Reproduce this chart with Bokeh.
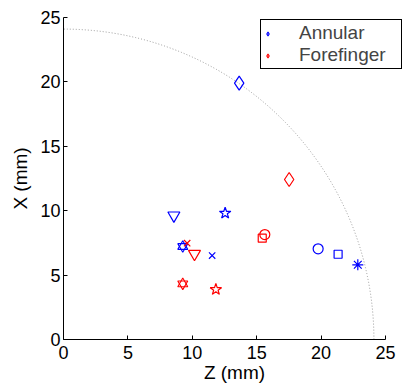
import math
from bokeh.plotting import figure
from bokeh.models import Range1d, Legend, LegendItem
from bokeh.embed import file_html
from bokeh.resources import INLINE

# Data (Z, X in mm)
annular_z = [13.64, 8.57, 12.55, 9.26, 11.54, 19.77, 21.32, 22.85]
annular_x = [19.90, 9.63, 9.81, 7.22, 6.52, 7.04, 6.62, 5.80]
annular_markers = ["diamond", "inverted_triangle", "star", "hexagram", "x", "circle", "square", "asterisk"]

fore_z = [17.52, 15.63, 15.43, 9.60, 10.17, 9.26, 11.83]
fore_x = [12.42, 8.15, 7.87, 7.48, 6.65, 4.32, 3.88]
fore_markers = ["diamond", "circle", "square", "x", "inverted_triangle", "hexagram", "star"]

arc_radius = 24.1
x_ticks = [0, 5, 10, 15, 20, 25]
y_ticks = [0, 5, 10, 15, 20, 25]

FONT = "Liberation Sans"
BLUE = "#0000ff"
RED = "#ff0000"

sizes = {"diamond": 14, "inverted_triangle": 12, "star": 12, "x": 9,
         "circle": 10, "square": 8, "asterisk": 11, "hexagram": 10}

p = figure(width=405, height=385, output_backend="svg", toolbar_location=None,
           x_range=Range1d(0, 342 / 12.88), y_range=Range1d(0, 25),
           min_border_left=63, min_border_right=0, min_border_top=17,
           min_border_bottom=46)
p.outline_line_color = None
p.xgrid.visible = False
p.ygrid.visible = False
p.background_fill_color = "white"

# dotted quarter circle
p.arc(x=[0], y=[0], radius=arc_radius, start_angle=0, end_angle=math.pi / 2,
      line_color="#999999", line_width=1, line_dash="1 2")

def draw(zs, xs, markers, color):
    for z, x, m in zip(zs, xs, markers):
        s = sizes[m]
        if m == "hexagram":
            p.scatter([z], [x], marker="triangle", size=s, fill_color=None,
                      line_color=color, line_width=1.1)
            p.scatter([z], [x], marker="inverted_triangle", size=s, fill_color=None,
                      line_color=color, line_width=1.1)
        else:
            p.scatter([z], [x], marker=m, size=s, fill_color=None,
                      line_color=color, line_width=1.2)

draw(annular_z, annular_x, annular_markers, BLUE)
draw(fore_z, fore_x, fore_markers, RED)

nan = float("nan")
leg_a = p.scatter(x=[nan], y=[nan], marker="diamond", size=9, fill_color=None, line_color=BLUE, line_width=1.2)
leg_f = p.scatter(x=[nan], y=[nan], marker="diamond", size=9, fill_color=None, line_color=RED, line_width=1.2)

legend = Legend(items=[LegendItem(label="Annular", renderers=[leg_a]),
                       LegendItem(label="Forefinger", renderers=[leg_f])],
                location=(197, 270), padding=2, spacing=0, margin=0,
                glyph_width=9, glyph_height=9, label_standoff=27,
                label_height=21, label_width=100,
                label_text_font=FONT, label_text_font_size="19px",
                border_line_color="black", border_line_width=1,
                border_line_alpha=1.0,
                background_fill_color="white", background_fill_alpha=1)
p.add_layout(legend)

for ax in (p.xaxis[0], p.yaxis[0]):
    ax.bounds = (0, 25)
    ax.axis_line_color = "black"
    ax.major_tick_in = 4
    ax.major_tick_out = 0
    ax.minor_tick_line_color = None
    ax.major_label_text_font = FONT
    ax.major_label_text_font_size = "18px"
    ax.major_label_text_color = "black"
    ax.axis_label_text_font = FONT
    ax.axis_label_text_font_size = "19px"
    ax.axis_label_text_font_style = "normal"
    ax.axis_label_text_color = "black"

p.xaxis[0].ticker = x_ticks
p.yaxis[0].ticker = y_ticks
p.xaxis[0].axis_label = "Z (mm)"
p.yaxis[0].axis_label = "X (mm)"
p.xaxis[0].major_label_standoff = 6
p.yaxis[0].major_label_standoff = 3
p.xaxis[0].axis_label_standoff = 0
p.yaxis[0].axis_label_standoff = 6

open("out.html", "w").write(file_html(p, INLINE))
